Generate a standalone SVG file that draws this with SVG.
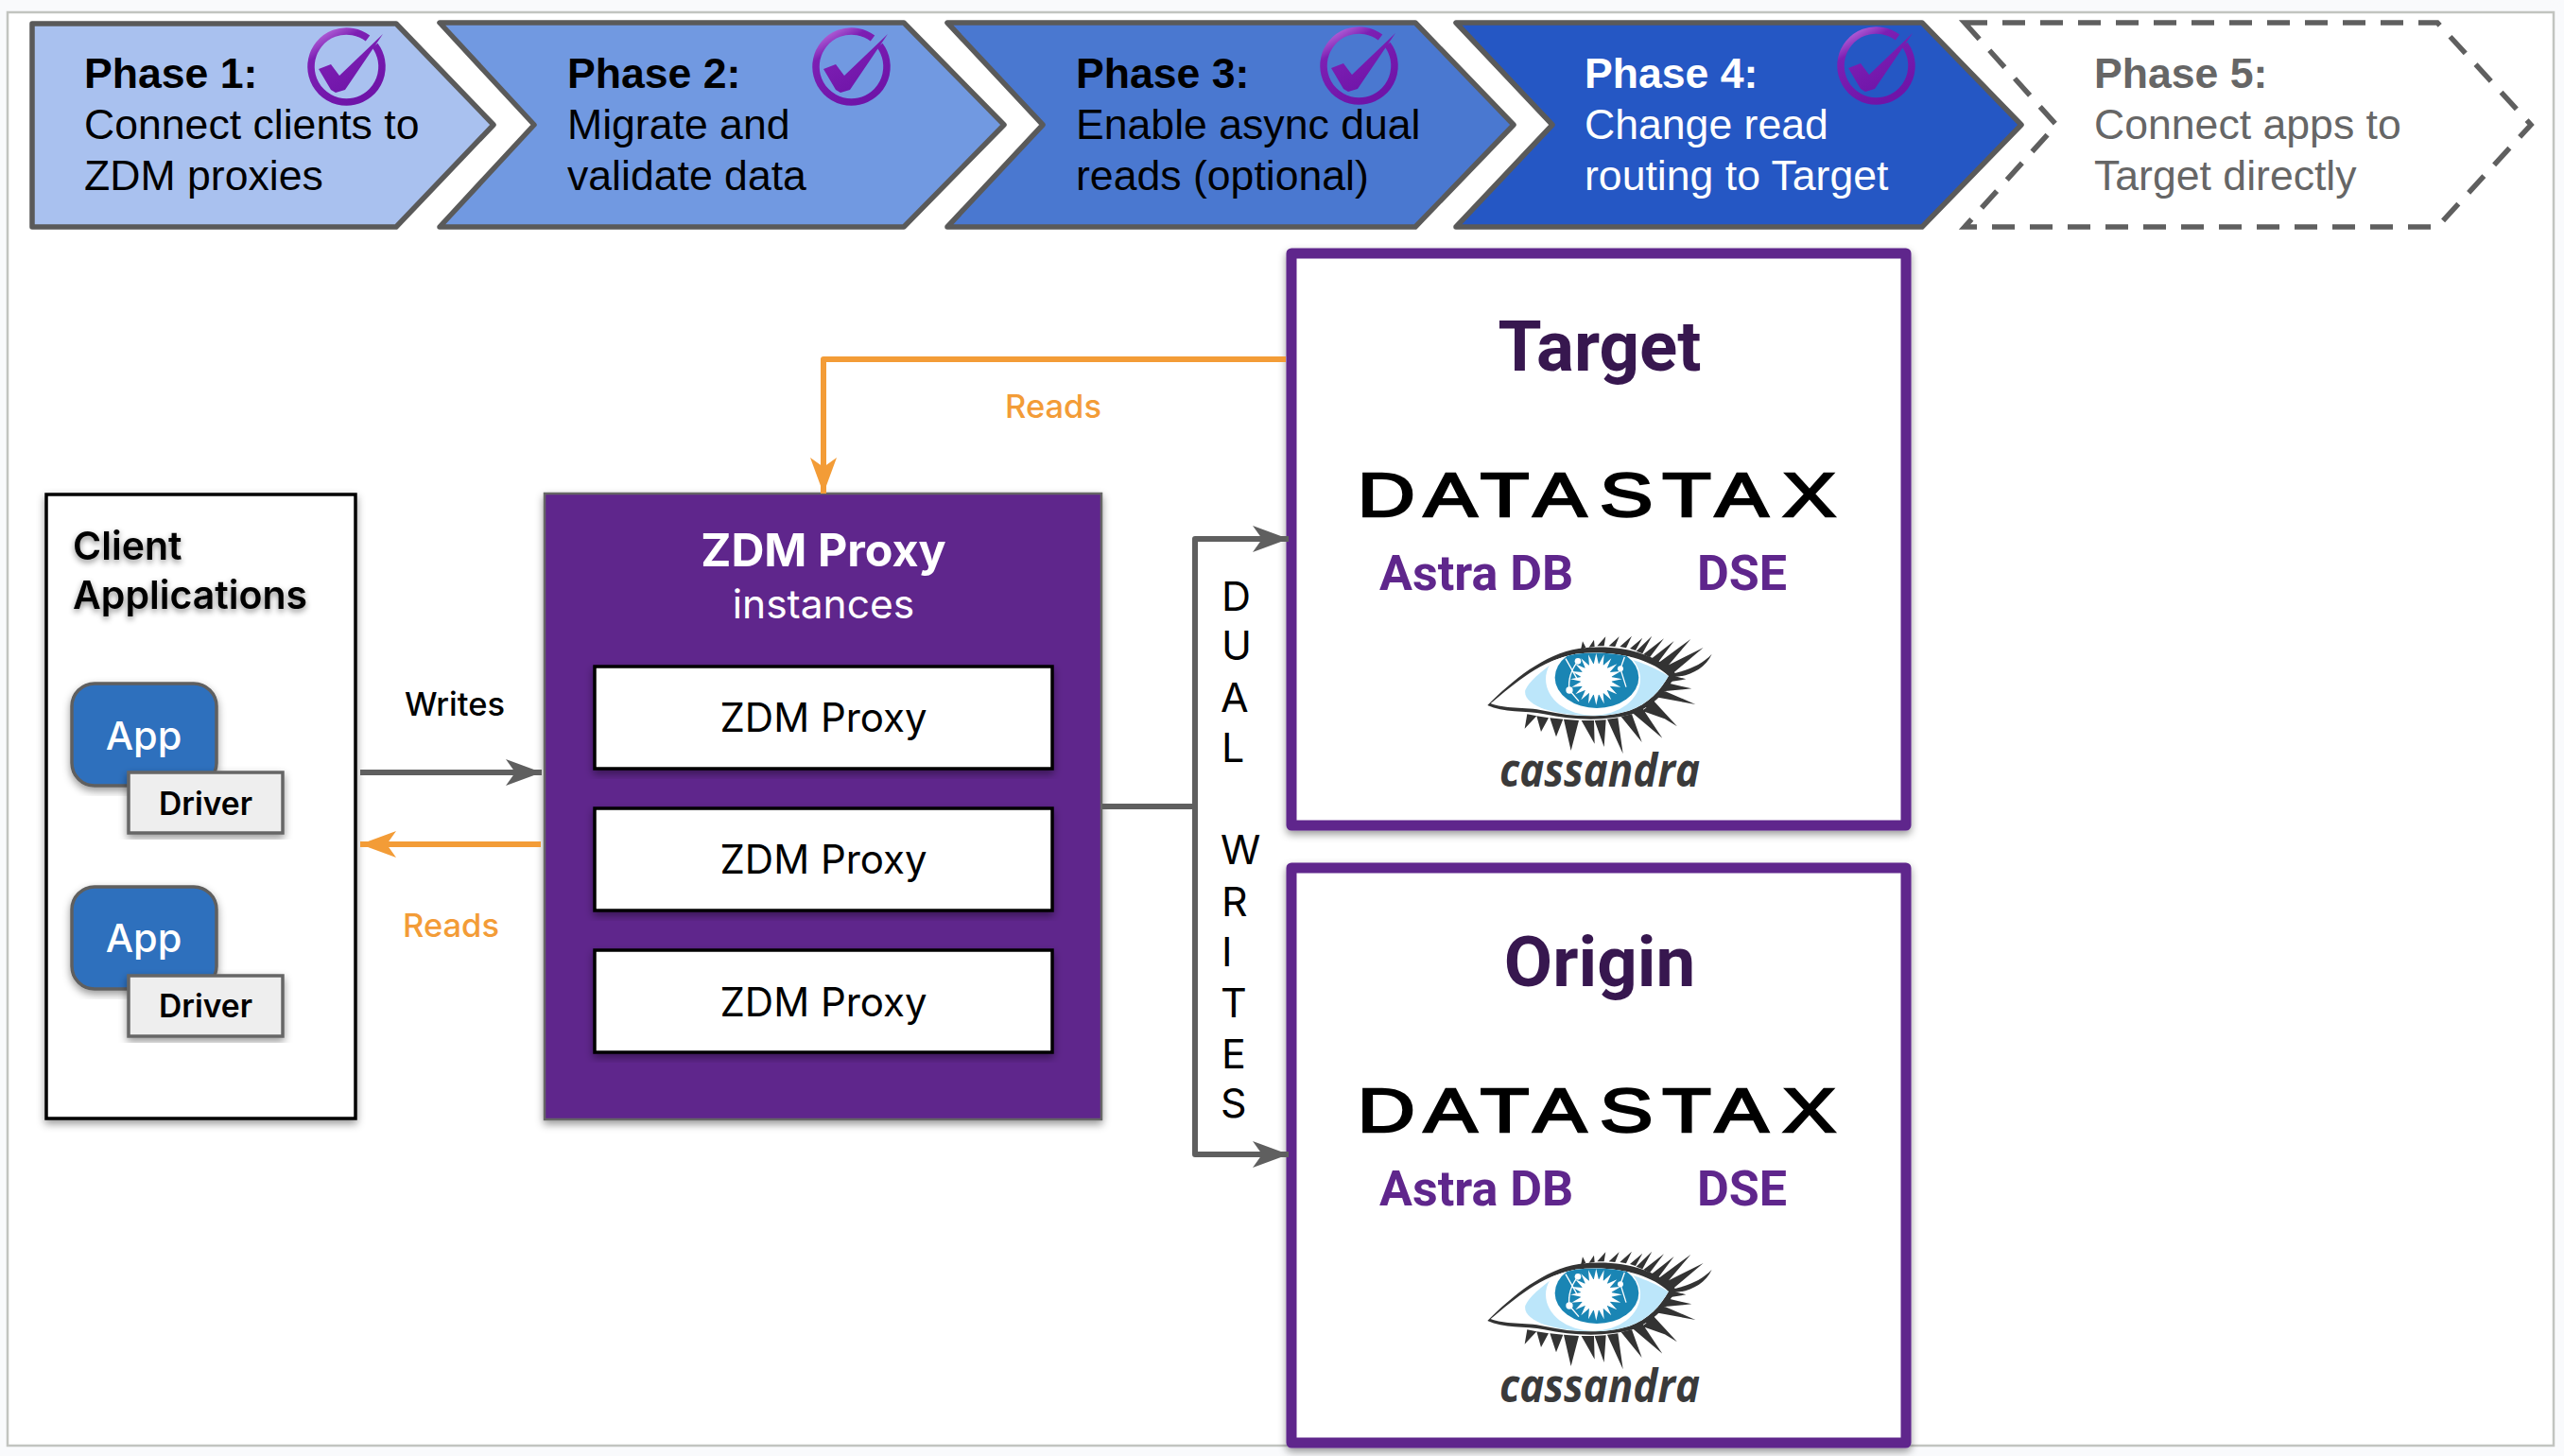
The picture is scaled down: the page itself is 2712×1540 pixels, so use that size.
<svg xmlns="http://www.w3.org/2000/svg" width="2712" height="1540" viewBox="0 0 2712 1540">
<style>
.ph{font-family:"Liberation Sans",Arial,sans-serif;font-size:44.6px}
.phb{font-weight:700}
.chev{stroke:#5a5a5a;stroke-width:5.5;stroke-linejoin:round}
.inter{font-family:Inter,"Noto Sans",sans-serif}
.rb{font-family:Roboto,"Noto Sans",sans-serif;font-weight:700}
.purple{fill:#5f268c}
.conn{fill:none;stroke-width:6;stroke-linejoin:round}
.gray{stroke:#5f5f5f}
.orange{stroke:#f39c37}
.inst{fill:#fff;stroke:#000;stroke-width:3.5}
.app{fill:#2f70bd;stroke:#5f5f5f;stroke-width:3.5}
.drv{fill:#eee;stroke:#666;stroke-width:3.5}
.mid{text-anchor:middle}
.logo{font-family:"Liberation Sans",Arial,sans-serif;font-size:65px;stroke:#000;stroke-width:2.4px}
.cass{font-family:"Open Sans","Noto Sans",sans-serif;font-size:49px;font-weight:700;font-style:italic;fill:#3a3a3a}
.sub{font-size:52px;fill:#5f268c}
.ttl{font-size:74.5px;fill:#37174f}
.lab{font-size:34.5px;font-weight:500}
.box{fill:#fff;stroke:#5f268c;stroke-width:11;stroke-linejoin:round}
</style>
<defs>
<filter id="sh" x="-10%" y="-10%" width="120%" height="120%"><feDropShadow dx="0" dy="4" stdDeviation="4" flood-color="#000" flood-opacity="0.4"/></filter>
<filter id="ts" x="-10%" y="-20%" width="120%" height="150%"><feDropShadow dx="0" dy="3" stdDeviation="3" flood-color="#000" flood-opacity="0.45"/></filter>
<marker id="ag" markerUnits="userSpaceOnUse" markerWidth="40" markerHeight="32" viewBox="0 -16 40 32" refX="38" refY="0" orient="auto"><path d="M0,-14 L38,0 L0,14 L10,0 Z" fill="#5f5f5f"/></marker>
<marker id="ao" markerUnits="userSpaceOnUse" markerWidth="40" markerHeight="32" viewBox="0 -16 40 32" refX="38" refY="0" orient="auto"><path d="M0,-14 L38,0 L0,14 L10,0 Z" fill="#f39c37"/></marker>
<linearGradient id="chk" x1="0" y1="0" x2="0.6" y2="1"><stop offset="0" stop-color="#c77de6"/><stop offset="0.3" stop-color="#7d1fb3"/><stop offset="1" stop-color="#6f14a8"/></linearGradient>
<g id="check">
<path d="M22,-30.5 A37.5 37.5 0 1 0 29.5,-23" fill="none" stroke="url(#chk)" stroke-width="7.5"/>
<path d="M-30,2 L-17,-3 L-8,9 L38,-35 L-2,24 L-12,27 L-17,24 Z" fill="url(#chk)"/>
</g>
<clipPath id="lidclip"><path d="M170,282 C250,215 330,145 440,125 C560,110 680,140 735,195 C710,240 670,285 610,305 C530,330 430,325 340,305 C280,292 210,300 170,282 Z"/></clipPath>
<g id="eye" transform="scale(0.3333)">
<path fill="#333" d="M456,112 L462,85 L472,104 Z M482,104 L498,80 L500,102 Z M508,100 L535,70 L530,100 Z M545,100 L578,70 L565,102 Z M580,102 L618,68 L600,106 Z M612,108 L652,74 L630,114 Z M632,116 L682,68 L652,124 Z M655,126 L720,76 L675,136 Z M680,140 L752,84 L700,154 Z M700,155 L805,78 L725,172 Z M725,165 L845,105 L750,185 Z M735,190 C790,180 840,160 872,125 C850,175 790,200 745,198 Z"/>
<path fill="#333" d="M286,316 L278,362 L316,322 Z M316,322 L330,372 L354,328 Z M358,328 L378,388 L400,332 Z M402,332 L425,432 L450,336 Z M458,336 L500,410 L498,336 Z M500,336 L530,420 L536,334 Z M540,332 L590,442 L574,328 Z M584,324 L650,405 L618,316 Z M620,312 L715,392 L652,298 Z M656,290 L762,355 L686,272 Z M694,262 L820,285 L716,240 Z M716,244 L808,235 L736,218 Z M736,214 L790,205 L750,194 Z M650,305 L735,335 L680,285 Z"/>
<path fill="#333" d="M160,288 C240,208 340,125 450,108 C570,92 690,120 760,190 C730,240 690,290 620,316 C530,340 430,335 340,316 C280,304 210,312 160,288 Z"/>
<path fill="#fff" d="M170,282 C250,215 330,145 440,125 C560,110 680,140 735,195 C710,240 670,285 610,305 C530,330 430,325 340,305 C280,292 210,300 170,282 Z"/>
<g clip-path="url(#lidclip)">
<path fill="#bce6fa" d="M280,240 C290,215 330,180 380,145 C450,125 570,125 640,150 C680,165 710,180 735,195 C710,240 670,285 610,305 C530,330 420,325 340,300 C300,285 275,265 280,240 Z"/>
<ellipse cx="495" cy="205" rx="150" ry="115" fill="#fff"/>
<ellipse cx="507" cy="200" rx="133" ry="97" fill="#1a85b4"/>
<polygon fill="#fff" points="587,205 552,212 583,230 548,227 571,253 539,239 553,271 527,248 530,283 513,252 505,287 497,252 480,283 483,248 457,271 471,239 439,253 462,227 427,230 458,212 423,205 458,198 427,180 462,183 439,157 471,171 457,139 483,162 480,127 497,158 505,123 513,158 530,127 527,162 553,139 539,171 571,157 548,183 583,180 552,198"/>
<circle cx="505" cy="205" r="50" fill="#fff"/>
<path d="M447,148 C425,175 415,210 420,240 M408,140 L445,205 M420,240 L450,275 M582,172 L595,135 M582,172 L600,230" fill="none" stroke="#fff" stroke-width="4"/>
<circle cx="447" cy="148" r="10" fill="#fff"/><circle cx="582" cy="172" r="9" fill="#fff"/><circle cx="420" cy="240" r="11" fill="#fff"/>
</g>
</g>
</defs>
<rect width="2712" height="1540" fill="#f9fafc"/>
<rect id="frame" x="8" y="13" width="2693" height="1516" fill="#fff" stroke="#c2c4c0" stroke-width="2.5"/>

<g id="phase1">
<path class="chev" fill="#a9c1ef" d="M34,25 L419,25 L522,132 L419,240 L34,240 Z"/>
<text class="ph" fill="#000"><tspan class="phb" x="89" y="92.5">Phase 1:</tspan><tspan x="89" y="146.5">Connect clients to</tspan><tspan x="89" y="200.5">ZDM proxies</tspan></text>
<use href="#check" x="367" y="71"/>
</g>
<g id="phase2">
<path class="chev" fill="#7199e1" d="M465,24 L956,24 L1062,132 L956,240 L465,240 L565,132 Z"/>
<text class="ph" fill="#000"><tspan class="phb" x="600" y="92.5">Phase 2:</tspan><tspan x="600" y="146.5">Migrate and</tspan><tspan x="600" y="200.5">validate data</tspan></text>
<use href="#check" x="901" y="71"/>
</g>
<g id="phase3">
<path class="chev" fill="#4a78d0" d="M1002,24 L1497,24 L1601,132 L1497,240 L1002,240 L1103,132 Z"/>
<text class="ph" fill="#000"><tspan class="phb" x="1138" y="92.5">Phase 3:</tspan><tspan x="1138" y="146.5">Enable async dual</tspan><tspan x="1138" y="200.5">reads (optional)</tspan></text>
<use href="#check" x="1438" y="70"/>
</g>
<g id="phase4">
<path class="chev" fill="#2557c4" d="M1540,24 L2033,24 L2138,132 L2033,240 L1540,240 L1642,132 Z"/>
<text class="ph" fill="#fff"><tspan class="phb" x="1676" y="92.5">Phase 4:</tspan><tspan x="1676" y="146.5">Change read</tspan><tspan x="1676" y="200.5">routing to Target</tspan></text>
<use href="#check" x="1985" y="70"/>
</g>
<g id="phase5">
<path fill="#fff" stroke="#5f5f5f" stroke-width="5.5" stroke-dasharray="24 16" d="M2078,24 L2578,24 L2677,132 L2578,240 L2078,240 L2175,132 Z"/>
<text class="ph" fill="#666"><tspan class="phb" x="2215" y="92.5">Phase 5:</tspan><tspan x="2215" y="146.5">Connect apps to</tspan><tspan x="2215" y="200.5">Target directly</tspan></text>
</g>

<g id="client">
<rect x="49" y="523" width="327" height="660" fill="#fff" stroke="#000" stroke-width="3.5" filter="url(#sh)"/>
<text class="inter" font-size="41" font-weight="600" fill="#000" filter="url(#ts)"><tspan x="77" y="592">Client</tspan><tspan x="77" y="644">Applications</tspan></text>
</g>
<g id="app1">
<rect class="app" x="76" y="723" width="153" height="108" rx="24" filter="url(#sh)"/>
<text class="inter mid" x="152" y="793" font-size="41.5" font-weight="500" fill="#fff">App</text>
</g>
<g id="driver1">
<rect class="drv" x="136" y="817" width="163" height="64" filter="url(#sh)"/>
<text class="inter mid" x="217.5" y="862" font-size="33.6" font-weight="600" fill="#000">Driver</text>
</g>
<g id="app2">
<rect class="app" x="76" y="938" width="153" height="108" rx="24" filter="url(#sh)"/>
<text class="inter mid" x="152" y="1007" font-size="41.5" font-weight="500" fill="#fff">App</text>
</g>
<g id="driver2">
<rect class="drv" x="136" y="1032" width="163" height="64" filter="url(#sh)"/>
<text class="inter mid" x="217.5" y="1076" font-size="33.6" font-weight="600" fill="#000">Driver</text>
</g>

<g id="proxy">
<rect class="purple" x="576" y="522" width="589" height="662" stroke="#666" stroke-width="2.5" filter="url(#sh)"/>
<text class="inter mid" x="871" y="599" font-size="48.4" font-weight="700" fill="#fff">ZDM Proxy</text>
<text class="inter mid" x="871" y="654" font-size="42.5" fill="#fff">instances</text>
</g>
<g id="proxy1"><rect class="inst" x="629" y="705" width="484" height="108" filter="url(#sh)"/><text class="inter mid" x="871" y="774" font-size="42" fill="#000">ZDM Proxy</text></g>
<g id="proxy2"><rect class="inst" x="629" y="855" width="484" height="108" filter="url(#sh)"/><text class="inter mid" x="871" y="924" font-size="42" fill="#000">ZDM Proxy</text></g>
<g id="proxy3"><rect class="inst" x="629" y="1005" width="484" height="108" filter="url(#sh)"/><text class="inter mid" x="871" y="1075" font-size="42" fill="#000">ZDM Proxy</text></g>

<g id="target">
<rect class="box" x="1366" y="268" width="650" height="605" filter="url(#sh)"/>
<text class="rb mid ttl" x="1692" y="392">Target</text>
<text class="logo" transform="translate(1441,546) scale(1.3,1)" x="-4 50 96 139 193 244 287 342" y="0">DATASTAX</text>
<text class="rb sub" x="1459" y="624">Astra DB</text>
<text class="rb sub" x="1795" y="624">DSE</text>
<use href="#eye" transform="translate(1520,650)"/>
<text class="cass" x="1586" y="832" textLength="212" lengthAdjust="spacingAndGlyphs">cassandra</text>
</g>
<g id="origin">
<rect class="box" x="1366" y="918" width="650" height="608" filter="url(#sh)"/>
<text class="rb mid ttl" x="1692" y="1043">Origin</text>
<text class="logo" transform="translate(1441,1197) scale(1.3,1)" x="-4 50 96 139 193 244 287 342" y="0">DATASTAX</text>
<text class="rb sub" x="1459" y="1275">Astra DB</text>
<text class="rb sub" x="1795" y="1275">DSE</text>
<use href="#eye" transform="translate(1520,1301)"/>
<text class="cass" x="1586" y="1483" textLength="212" lengthAdjust="spacingAndGlyphs">cassandra</text>
</g>

<g id="connectors">
<path class="conn gray" d="M381,817 L573,817" marker-end="url(#ag)"/>
<path class="conn orange" d="M572,893 L381,893" marker-end="url(#ao)"/>
<path class="conn orange" d="M1360,380 L871,380 L871,522" marker-end="url(#ao)"/>
<path class="conn gray" d="M1166,853 L1264,853"/>
<path class="conn gray" d="M1363,570 L1264,570 L1264,1221 L1363,1221"/>
<path class="conn gray" d="M1320,570 L1363,570" marker-end="url(#ag)"/>
<path class="conn gray" d="M1320,1221 L1363,1221" marker-end="url(#ag)"/>
</g>
<g id="connector-labels">
<text class="inter mid lab" x="481" y="757" fill="#000">Writes</text>
<text class="inter mid lab" x="477" y="991" fill="#f39c37">Reads</text>
<text class="inter mid lab" x="1114" y="442" fill="#f39c37">Reads</text>
<text class="inter" font-size="43" fill="#000"><tspan x="1292" y="646">D</tspan><tspan x="1292" y="698">U</tspan><tspan x="1291" y="753">A</tspan><tspan x="1292" y="806">L</tspan><tspan x="1291" y="914">W</tspan><tspan x="1292" y="969">R</tspan><tspan x="1292" y="1022">I</tspan><tspan x="1291" y="1076">T</tspan><tspan x="1292" y="1130">E</tspan><tspan x="1291" y="1182">S</tspan></text>
</g>
</svg>
